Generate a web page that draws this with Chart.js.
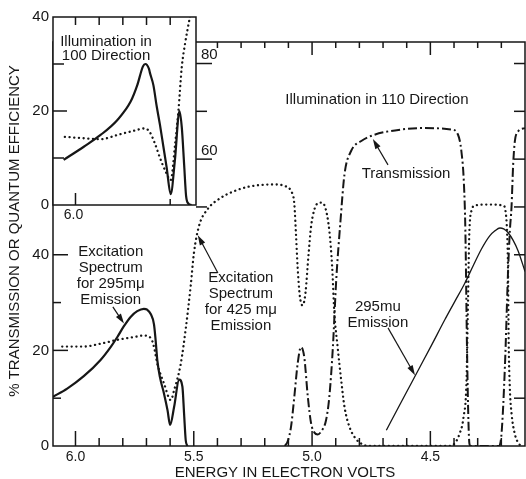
<!DOCTYPE html>
<html>
<head>
<meta charset="utf-8">
<title>Transmission and quantum efficiency vs. photon energy</title>
<script src="https://cdn.jsdelivr.net/npm/chart.js@4"></script>
<style>
  html, body { margin: 0; padding: 0; background: #fff; }
  #wrap { position: relative; width: 526px; height: 479px; }
  #wrap canvas { position: absolute; left: 0; top: 0; }
</style>
</head>
<body>
<div id="wrap">
  <canvas id="mainChart" width="526" height="479"></canvas>
  <canvas id="insetChart" width="205" height="226"></canvas>
</div>
<script>
// ---- Illumination in 110 direction (main frame), energy in eV ----
const exc295Energy = [6.095, 6.035, 5.965, 5.894, 5.850, 5.823, 5.796, 5.767, 5.739, 5.711, 5.697, 5.682,
  5.668, 5.661, 5.654, 5.643, 5.626, 5.611, 5.600, 5.583, 5.562, 5.548, 5.541, 5.534, 5.527];
const exc295Eff = [10.3, 12.0, 14.6, 18.0, 20.8, 22.8, 25.0, 27.0, 28.2, 28.7, 28.5, 27.6,
  25.4, 22.0, 17.9, 14.4, 11.0, 7.5, 4.4, 8.2, 13.9, 12.4, 6.8, 1.2, 0];

const exc425Energy = [6.056, 5.965, 5.894, 5.823, 5.753, 5.711, 5.682, 5.668, 5.654, 5.626, 5.597, 5.583,
  5.555, 5.534, 5.513, 5.499, 5.478, 5.442, 5.386, 5.329, 5.272, 5.216, 5.160, 5.117, 5.089, 5.075,
  5.068, 5.061, 5.052, 5.040, 5.028, 5.015, 5.004, 4.990, 4.975, 4.962, 4.945, 4.927, 4.915, 4.906,
  4.892, 4.877, 4.863, 4.842, 4.815, 4.785, 4.760, 4.420, 4.398, 4.377, 4.360, 4.347, 4.341, 4.335,
  4.324, 4.314, 4.250, 4.192, 4.182, 4.176, 4.172, 4.169, 4.164, 4.157, 4.144, 4.123, 4.110];
const exc425Eff = [20.8, 20.8, 21.4, 22.2, 22.8, 23.1, 22.6, 20.7, 17.2, 13.1, 9.6, 11.7,
  17.2, 24.5, 33.5, 40.5, 46.0, 49.5, 51.9, 53.3, 54.2, 54.6, 54.7, 54.4, 53.3, 50.6,
  44.3, 37.4, 31.5, 29.4, 32.0, 40.0, 46.0, 49.5, 50.8, 50.9, 50.0, 45.0, 37.4, 28.0,
  20.7, 13.8, 8.2, 4.0, 1.5, 0.3, 0, 0, 0.5, 2.5, 6.0, 14.0, 30.0, 45.0,
  49.5, 50.3, 50.5, 50.3, 49.0, 45.0, 37.5, 22.0, 12.0, 6.9, 2.7, 0.3, 0];

const transEnergy = [5.115, 5.103, 5.089, 5.075, 5.061, 5.047, 5.033, 5.018, 5.004, 4.990, 4.976, 4.962,
  4.941, 4.927, 4.912, 4.898, 4.880, 4.863, 4.835, 4.792, 4.736, 4.623, 4.524, 4.411, 4.383, 4.369,
  4.358, 4.352, 4.345, 4.339, 4.335, 4.330, 4.210, 4.199, 4.185, 4.171, 4.164, 4.157, 4.150, 4.143,
  4.129, 4.100];
const transPct = [0, 1.0, 4.0, 10.3, 17.2, 20.7, 18.6, 10.3, 4.7, 2.8, 2.4, 3.0,
  5.4, 10.3, 20.7, 34.6, 47.0, 56.8, 61.7, 63.8, 65.1, 66.2, 66.5, 66.2, 65.1, 61.7,
  54.7, 45.0, 20.0, 5.0, 0.5, 0, 0, 2.7, 16.5, 37.4, 45.0, 50.0, 58.9, 63.7,
  65.8, 66.5];

const emis295Energy = [4.686, 4.623, 4.552, 4.496, 4.439, 4.397, 4.355, 4.320, 4.284, 4.250, 4.227,
  4.206, 4.190, 4.171, 4.150, 4.129, 4.100];
const emis295Eff = [3.3, 9.2, 15.8, 21.0, 26.4, 30.2, 34.0, 37.6, 41.2, 43.9, 45.0,
  45.6, 45.4, 44.6, 43.0, 40.8, 36.5];

// ---- Illumination in 100 direction (inset) ----
const inset295Energy = [6.050, 5.965, 5.894, 5.823, 5.767, 5.739, 5.715, 5.705, 5.690, 5.685, 5.671,
  5.657, 5.643, 5.629, 5.615, 5.598, 5.580, 5.561, 5.551, 5.541, 5.533, 5.523, 5.510];
const inset295Eff = [9.6, 12.4, 14.9, 18.1, 22.0, 25.5, 29.5, 30.0, 29.0, 28.0, 25.5,
  21.0, 17.0, 12.5, 8.0, 2.3, 9.6, 20.0, 16.5, 8.5, 2.0, 0.3, 0];

const inset425Energy = [6.045, 5.965, 5.894, 5.823, 5.753, 5.706, 5.685, 5.664, 5.643, 5.620, 5.598,
  5.579, 5.565, 5.551, 5.537, 5.519, 5.505];
const inset425Eff = [14.5, 14.2, 14.0, 14.9, 15.8, 16.3, 15.4, 13.0, 10.0, 7.2, 5.3,
  13.1, 20.2, 29.4, 34.4, 39.4, 43.0];

// tick labels
const energyLabels = [6.0, 5.5, 5.0, 4.5];
const mainLeftLabels = [0, 20, 40];
const mainSideLabels = [60, 80];
const insetYLabels = [0, 20, 40];
const insetXLabels = [6.0];
const insetBottomTicks = [6.0, 5.6];

const INK = "#161616";
const FAMILY = '"Liberation Sans", Arial, sans-serif';
// inset box, in page pixels
const INSET = { left: 53, top: 17, right: 196, bottom: 205 };

const pts = (xs, ys) => xs.map((x, i) => ({ x: x, y: ys[i] }));

function text(ctx, str, x, y, size, align, base) {
    ctx.font = size + "px " + FAMILY;
    ctx.textAlign = align || "center";
    ctx.textBaseline = base || "middle";
    ctx.fillText(str, x, y);
}

function line(ctx, x1, y1, x2, y2) {
    ctx.beginPath();
    ctx.moveTo(x1, y1);
    ctx.lineTo(x2, y2);
    ctx.stroke();
}

function arrow(ctx, x1, y1, x2, y2) {
    const a = Math.atan2(y2 - y1, x2 - x1);
    const c = Math.cos(a), s = Math.sin(a);
    line(ctx, x1, y1, x2 - 6 * c, y2 - 6 * s);
    ctx.beginPath();
    ctx.moveTo(x2, y2);
    ctx.lineTo(x2 - 10 * c + 3 * s, y2 - 10 * s - 3 * c);
    ctx.lineTo(x2 - 10 * c - 3 * s, y2 - 10 * s + 3 * c);
    ctx.closePath();
    ctx.fill();
}

// labels and arrows, placed in data units (eV, %)
const mainNotes = [
    { lines: ["Illumination in 110 Direction"], e: 4.726, v: 72.4 },
    { lines: ["Transmission"], e: 4.603, v: 56.9 },
    { lines: ["Excitation", "Spectrum", "for 295mμ", "Emission"], e: 5.851, v: 40.6 },
    { lines: ["Excitation", "Spectrum", "for 425 mμ", "Emission"], e: 5.301, v: 35.1 },
    { lines: ["295mu", "Emission"], e: 4.722, v: 29.1 }
];
const mainArrows = [
    { from: [4.679, 58.8], to: [4.743, 64.2] },
    { from: [5.842, 29.1], to: [5.795, 25.6] },
    { from: [5.398, 36.2], to: [5.483, 44.1] },
    { from: [4.679, 24.7], to: [4.565, 14.8] }
];

const mainFrame = {
    id: "mainFrame",
    afterDraw(chart) {
        const { ctx, chartArea: a, scales: { x, y } } = chart;
        ctx.save();
        ctx.strokeStyle = INK;
        ctx.fillStyle = INK;
        ctx.lineWidth = 1.5;
        ctx.strokeRect(a.left, a.top, a.right - a.left, a.bottom - a.top);

        // energy ticks every 0.1 eV, top and bottom, pointing inward
        for (let k = 41; k <= 61; k++) {
            const e = k / 10;
            if (e <= x.min + 0.001 || e >= x.max) continue;
            const px = x.getPixelForValue(e);
            const major = k % 5 === 0;
            line(ctx, px, a.bottom, px, a.bottom - (major ? 15 : 8));
            line(ctx, px, a.top, px, a.top + (major ? 13 : 6));
        }
        // left ticks below the inset
        for (let v = 10; v <= 40; v += 10) {
            const py = y.getPixelForValue(v);
            line(ctx, a.left, py, a.left + (v % 20 === 0 ? 15 : 8), py);
        }
        // right ticks
        for (let v = 10; v <= 80; v += 10) {
            const py = y.getPixelForValue(v);
            line(ctx, a.right, py, a.right - 11, py);
        }
        // upper part of the scale, carried on the inset's right edge
        for (let v = 50; v <= 80; v += 10) {
            const py = y.getPixelForValue(v);
            line(ctx, INSET.right, py, INSET.right + (v % 20 === 0 ? 16 : 11), py);
        }
        mainSideLabels.forEach(v => {
            text(ctx, String(v), INSET.right + 5, y.getPixelForValue(v) - 1, 15, "left", "bottom");
        });

        mainLeftLabels.forEach(v => {
            text(ctx, String(v), a.left - 4, y.getPixelForValue(v), 15, "right");
        });
        energyLabels.forEach(e => {
            text(ctx, e.toFixed(1), x.getPixelForValue(e), a.bottom + 11, 14);
        });

        text(ctx, "ENERGY IN ELECTRON VOLTS", 285, 473, 15);
        ctx.save();
        ctx.translate(15, 231);
        ctx.rotate(-Math.PI / 2);
        text(ctx, "% TRANSMISSION OR QUANTUM EFFICIENCY", 0, 0, 15);
        ctx.restore();

        mainNotes.forEach(n => {
            const cx = x.getPixelForValue(n.e);
            const cy = y.getPixelForValue(n.v);
            n.lines.forEach((s, i) => text(ctx, s, cx, cy + i * 16, 15));
        });
        ctx.lineWidth = 1.2;
        mainArrows.forEach(ar => {
            arrow(ctx, x.getPixelForValue(ar.from[0]), y.getPixelForValue(ar.from[1]),
                x.getPixelForValue(ar.to[0]), y.getPixelForValue(ar.to[1]));
        });
        ctx.restore();
    }
};

const insetFrame = {
    id: "insetFrame",
    beforeDraw(chart) {
        const { ctx, chartArea: a } = chart;
        ctx.save();
        ctx.fillStyle = "#fff";
        ctx.fillRect(a.left, a.top, a.right - a.left, a.bottom - a.top);
        ctx.restore();
    },
    afterDraw(chart) {
        const { ctx, chartArea: a, scales: { x, y } } = chart;
        ctx.save();
        ctx.strokeStyle = INK;
        ctx.fillStyle = INK;
        ctx.lineWidth = 1.5;
        ctx.strokeRect(a.left, a.top, a.right - a.left, a.bottom - a.top);
        for (let v = 10; v <= 30; v += 10) {
            const py = y.getPixelForValue(v);
            line(ctx, a.left, py, a.left + (v === 20 ? 14 : 11), py);
        }
        for (let k = 56; k <= 60; k++) {
            const px = x.getPixelForValue(k / 10);
            line(ctx, px, a.top, px, a.top + 8);
        }
        insetBottomTicks.forEach(e => {
            const px = x.getPixelForValue(e);
            line(ctx, px, a.bottom, px, a.bottom - (e === 6.0 ? 12 : 6));
        });
        insetYLabels.forEach(v => {
            text(ctx, String(v), a.left - 4, y.getPixelForValue(v), 15, "right");
        });
        insetXLabels.forEach(e => {
            text(ctx, e.toFixed(1), x.getPixelForValue(e) - 2, a.bottom + 10, 14);
        });
        const cx = x.getPixelForValue(5.871);
        text(ctx, "Illumination in", cx, y.getPixelForValue(34.7), 15);
        text(ctx, "100 Direction", cx, y.getPixelForValue(31.7), 15);
        ctx.restore();
    }
};

function quietScale(extra, fit) {
    return Object.assign({
        type: "linear",
        ticks: { display: false },
        grid: { display: false },
        border: { display: false },
        afterFit: fit
    }, extra);
}

const baseOptions = {
    responsive: false,
    animation: false,
    events: [],
    plugins: { legend: { display: false }, tooltip: { enabled: false } },
    elements: { point: { radius: 0 }, line: { cubicInterpolationMode: "monotone", borderColor: INK } }
};

const solidStyle = { borderColor: INK, borderWidth: 2.2 };
const dottedStyle = { borderColor: INK, borderWidth: 2.3, borderDash: [0.1, 4.6], borderCapStyle: "round" };

new Chart(document.getElementById("mainChart"), {
    type: "line",
    data: {
        datasets: [
            Object.assign({ label: "Excitation spectrum, 295 mμ emission", data: pts(exc295Energy, exc295Eff) }, solidStyle),
            Object.assign({ label: "Excitation spectrum, 425 mμ emission", data: pts(exc425Energy, exc425Eff) }, dottedStyle),
            { label: "Transmission", data: pts(transEnergy, transPct), borderColor: INK, borderWidth: 2, borderDash: [9, 3, 2, 3] },
            { label: "295 mu emission", data: pts(emis295Energy, emis295Eff), borderColor: INK, borderWidth: 1.3 }
        ]
    },
    options: Object.assign({}, baseOptions, {
        layout: { padding: { top: 42, right: 1, left: 0, bottom: 0 } },
        scales: {
            x: quietScale({ min: 4.1, max: 6.095, reverse: true }, s => { s.height = 33; }),
            y: quietScale({ min: 0, max: 84.5 }, s => { s.width = 53; })
        }
    }),
    plugins: [mainFrame]
});

new Chart(document.getElementById("insetChart"), {
    type: "line",
    data: {
        datasets: [
            Object.assign({ label: "295 mμ emission (100)", data: pts(inset295Energy, inset295Eff) }, solidStyle),
            Object.assign({ label: "425 mμ emission (100)", data: pts(inset425Energy, inset425Eff) }, dottedStyle)
        ]
    },
    options: Object.assign({}, baseOptions, {
        layout: { padding: { top: INSET.top, right: 205 - INSET.right, left: 0, bottom: 0 } },
        scales: {
            x: quietScale({ min: 5.491, max: 6.095, reverse: true }, s => { s.height = 226 - INSET.bottom; }),
            y: quietScale({ min: 0, max: 40 }, s => { s.width = INSET.left; })
        }
    }),
    plugins: [insetFrame]
});
</script>
</body>
</html>
